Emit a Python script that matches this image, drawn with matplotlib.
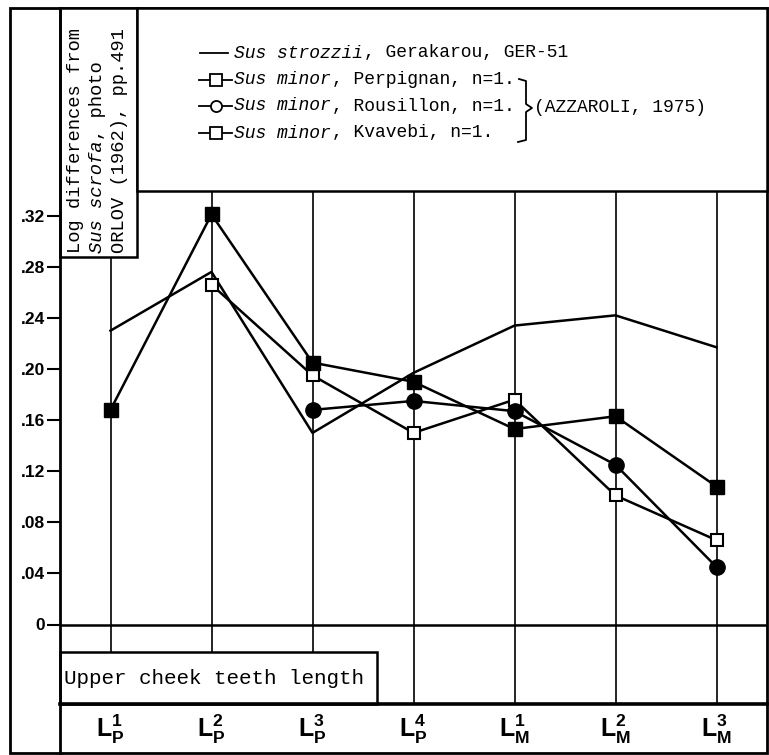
import numpy as np
import matplotlib
matplotlib.use('Agg')
import matplotlib.pyplot as plt
import matplotlib.patches as patches

plt.rcParams['mathtext.fontset'] = 'custom'
plt.rcParams['mathtext.bf'] = 'Liberation Sans:bold'
plt.rcParams['mathtext.rm'] = 'Liberation Sans:bold'

# Data: log differences from Sus scrofa, upper cheek teeth lengths
teeth = [r'$\mathbf{L_{P}^{1}}$', r'$\mathbf{L_{P}^{2}}$', r'$\mathbf{L_{P}^{3}}$',
         r'$\mathbf{L_{P}^{4}}$', r'$\mathbf{L_{M}^{1}}$', r'$\mathbf{L_{M}^{2}}$',
         r'$\mathbf{L_{M}^{3}}$']
strozzii = [0.230, 0.276, 0.150, 0.197, 0.234, 0.242, 0.217]
perpignan = [np.nan, 0.266, 0.195, 0.150, 0.176, 0.101, 0.066]
rousillon = [np.nan, np.nan, 0.168, 0.175, 0.167, 0.125, 0.045]
kvavebi = [0.168, 0.321, 0.205, 0.190, 0.153, 0.163, 0.108]
yticks = [0, 0.04, 0.08, 0.12, 0.16, 0.20, 0.24, 0.28, 0.32]
ytick_labels = ['0', '.04', '.08', '.12', '.16', '.20', '.24', '.28', '.32']

W, H = 769, 755
fig = plt.figure(figsize=(W / 100, H / 100), dpi=100)

# main axes (pixel box: x 60..767, y 8..703)
ax_l, ax_r, ax_t, ax_b = 60, 767, 8, 703
ax = fig.add_axes([ax_l / W, 1 - ax_b / H, (ax_r - ax_l) / W, (ax_b - ax_t) / H])
ppu = 1277.5  # pixels per unit of y
y0 = -(ax_b - 624.5) / ppu
ax.set_ylim(y0, y0 + (ax_b - ax_t) / ppu)
ax.set_xlim(-0.5, len(teeth) - 0.5)
for s in ax.spines.values():
  s.set_visible(False)

x = np.arange(len(teeth))
ax.vlines(x, y0, 1, color='black', lw=1.2, zorder=1)
ax.axhline(0, color='black', lw=1.8, zorder=1)

lw = 1.8
ax.plot(x, strozzii, color='black', lw=lw, zorder=3)
ax.plot(x, perpignan, color='black', lw=lw, marker='s', ms=8, mfc='white',
        mec='black', mew=1.5, zorder=4)
ax.plot(x, rousillon, color='black', lw=lw, marker='o', ms=11, mfc='black',
        mec='black', zorder=4)
ax.plot(x, kvavebi, color='black', lw=lw, marker='s', ms=10, mfc='black',
        mec='black', zorder=4)

ax.set_yticks(yticks, ytick_labels)
for lab in ax.get_yticklabels():
  lab.set_fontfamily('Liberation Sans')
  lab.set_fontweight('bold')
  lab.set_fontsize(12.5)
ax.tick_params(axis='y', length=9.5, width=1.5, pad=1, direction='out')
ax.set_xticks(x, teeth)
ax.tick_params(axis='x', length=0, pad=7, labelsize=18)
ax.patch.set_visible(False)

# overlay in pixel coords for frames, boxes, texts
ov = fig.add_axes([0, 0, 1, 1])
ov.set_xlim(0, W)
ov.set_ylim(H, 0)
ov.axis('off')
ov.patch.set_visible(False)
ov.set_zorder(2)

def box(x0, y0_, x1, y1):
  ov.add_patch(patches.Rectangle((x0, y0_), x1 - x0, y1 - y0_, facecolor='white',
                                 edgecolor='black', lw=1.8))

frame_lw = 2.0
ov.add_patch(patches.Rectangle((10, 8), 757, 745, fill=False, edgecolor='black', lw=frame_lw))
ov.plot([60, 60], [8, 753], color='black', lw=frame_lw)
ov.plot([60, 767], [704, 704], color='black', lw=2.6)
box(60, 8, 137, 257)
box(137, 8, 767, 191)
box(60, 652, 377, 704)

mono = 'Liberation Mono'

def put(x0, y, pieces, fs=13):
  cw = 0.6 * fs * 100 / 72
  for txt, it in pieces:
    ov.text(x0, y, txt, fontsize=fs, family=mono, style='italic' if it else 'normal',
            ha='left', va='center')
    x0 += len(txt) * cw

def put_up(xc, y, pieces, fs=13.5):
  cw = 0.6 * fs * 100 / 72
  for txt, it in pieces:
    ov.text(xc, y, txt, fontsize=fs, family=mono, style='italic' if it else 'normal',
            rotation=90, ha='center', va='bottom')
    y -= len(txt) * cw

# legend
rows = [53, 80, 106, 133]
tx = 234
ov.plot([200, 228], [rows[0], rows[0]], color='black', lw=1.3)
put(tx, rows[0], [('Sus strozzii', True), (', Gerakarou, GER-51', False)])
for r, mk, name in [(rows[1], 's', 'Perpignan'), (rows[2], 'o', 'Rousillon'),
                    (rows[3], 's', 'Kvavebi')]:
  ov.plot([199, 232], [r, r], color='black', lw=1.3)
  ov.plot([216], [r], marker=mk, ms=8, mfc='white', mec='black', mew=1.3)
  put(tx, r, [('Sus minor', True), (', %s, n=1.' % name, False)])

# brace and reference
bx = [519, 526, 526, 532, 526, 526, 518]
by = [79, 81, 104, 108, 112, 140, 142]
ov.plot(bx, by, color='black', lw=1.3)
put(534, 108, [('(AZZAROLI, 1975)', False)])

# y label box text
put_up(76, 253, [('Log differences from', False)])
put_up(98, 253, [('Sus scrofa', True), (', photo', False)])
put_up(120, 253, [('ORLOV (1962), pp.491', False)])

# bottom box
put(64, 678, [('Upper cheek teeth length', False)], fs=15)

fig.savefig('out.png', dpi=100)
